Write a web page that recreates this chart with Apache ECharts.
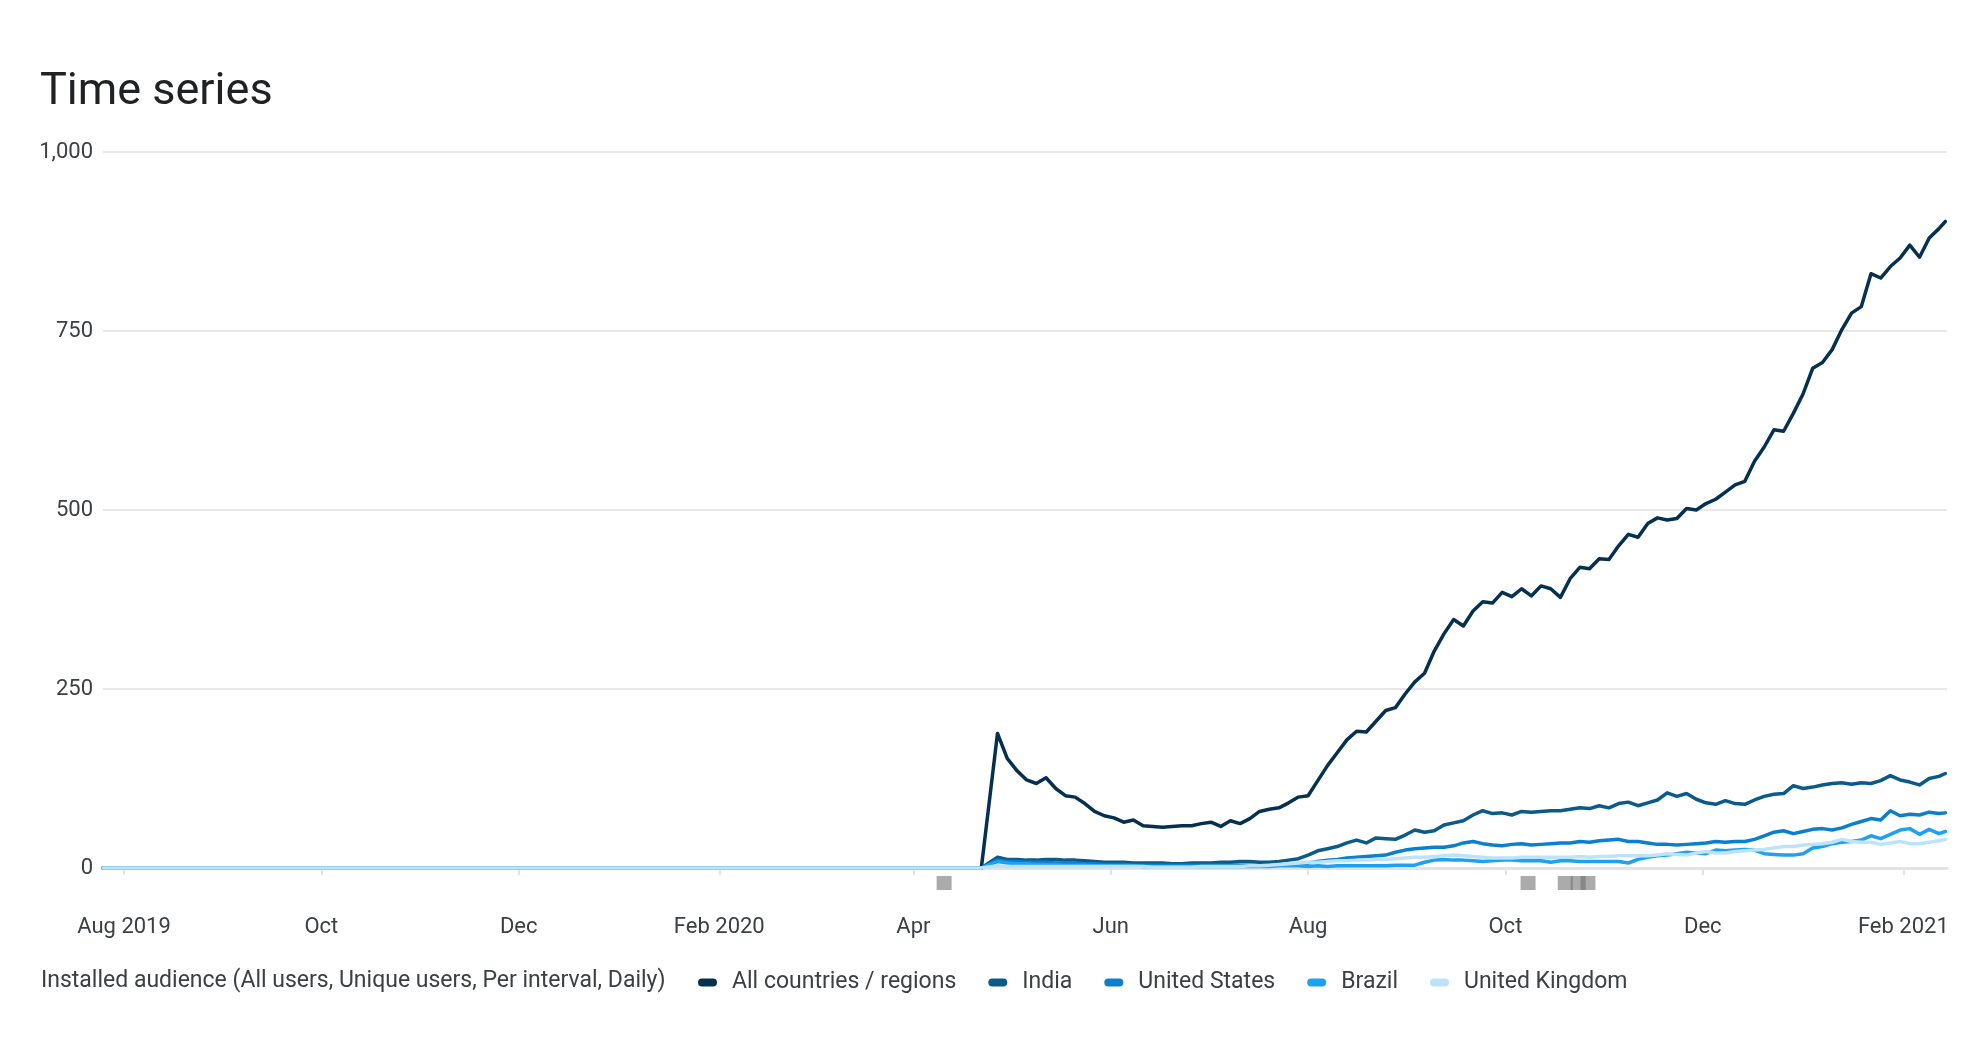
<!DOCTYPE html>
<html><head><meta charset="utf-8">
<script src="https://cdn.jsdelivr.net/npm/echarts@6/dist/echarts.min.js"></script>
<style>html,body{margin:0;padding:0;background:#fff}#c{width:1971px;height:1043px}</style>
</head><body><div id="c"></div>
<script>
// Day offsets counted from 2019-08-01
const tickDays = [0, 61, 122, 184, 244, 305, 366, 427, 488, 550];
const tickLabels = ['Aug 2019', 'Oct', 'Dec', 'Feb 2020', 'Apr', 'Jun', 'Aug', 'Oct', 'Dec', 'Feb 2021'];
const yTicks = [0, 250, 500, 750, 1000];

const seriesNames = ['All countries / regions', 'India', 'United States', 'Brazil', 'United Kingdom'];

const days = [-6.5, 265,
  270,273,276,279,282,285,288,291,294,297,300,303,306,309,312,315,318,321,324,327,330,333,336,339,342,345,348,351,354,357,360,
  363,366,369,372,375,378,381,384,387,390,393,396,399,402,405,408,411,414,417,420,423,426,429,432,435,438,441,444,447,450,
  453,456,459,462,465,468,471,474,477,480,483,486,489,492,495,498,501,504,507,510,513,516,519,522,525,528,531,534,537,540,
  543,546,549,552,555,558,561, 563];

const allCountries = [0, 0,
  188,153,136,123,118,126,111,101,99,90,79,73,70,64,67,59,58,57,58,59,59,62,64,58,66,62,69,79,82,84,91,
  99,101,122,143,161,179,191,190,205,220,224,243,260,272,303,327,347,338,359,372,370,385,379,390,380,394,390,378,404,420,
  418,432,431,450,466,462,481,489,486,488,502,500,509,515,525,535,540,568,588,612,610,635,662,698,706,724,752,775,784,830,
  824,840,852,870,853,880,893, 903];

const india = [0, 0,
  15,12,12,11,11,12,12,11,11,10,9,8,8,8,7,7,7,7,6,6,7,7,7,8,8,9,9,8,8,9,11,
  13,18,24,27,30,35,39,35,42,41,40,46,53,50,52,60,63,66,74,80,76,77,74,79,78,79,80,80,82,84,
  83,87,84,90,92,87,91,95,105,100,104,96,91,89,94,90,89,95,100,103,104,115,111,113,116,118,119,117,119,118,
  122,129,123,120,116,125,128, 132];

const unitedStates = [0, 0,
  11,9,9,8,8,8,7,7,7,6,6,5,5,5,4,4,4,4,4,4,4,4,4,4,4,4,4,3,3,4,4,
  5,7,9,11,12,14,15,16,17,18,22,25,27,28,29,29,31,35,37,34,32,31,33,34,32,33,34,35,35,37,
  36,38,39,40,37,37,35,33,33,32,33,34,35,37,36,37,37,40,45,50,52,48,51,54,55,53,56,61,65,69,
  67,80,73,75,74,78,76, 77];

const brazil = [0, 0,
  9,7,6,6,5,5,5,4,4,4,3,3,3,3,3,2,2,2,2,2,2,2,2,2,2,2,2,2,2,3,3,
  3,2,3,2,3,3,3,3,3,3,4,4,4,8,11,12,11,11,10,9,10,11,11,10,10,10,8,10,10,9,
  9,9,9,9,7,12,15,17,18,20,22,21,20,25,24,25,26,25,20,19,18,18,20,28,30,34,36,37,39,45,
  41,47,53,55,47,54,48, 51];

const unitedKingdom = [0, 0,
  3,2,2,2,2,2,2,2,2,2,2,2,2,2,2,2,1,1,1,1,1,2,2,2,2,2,3,3,4,5,6,
  7,8,8,9,10,10,11,11,12,12,13,14,15,15,16,17,18,17,16,15,14,14,14,15,15,15,15,15,15,16,
  15,16,16,17,17,17,17,18,20,19,18,21,23,21,21,23,24,25,26,28,30,30,32,33,34,36,40,37,36,36,
  33,35,37,34,34,36,38, 40];

const annotationDays = [253.5, 434, 445.5, 449.5, 452.5];

const seriesValues = [allCountries, india, unitedStates, brazil, unitedKingdom];
const seriesColors = ['#05304f', '#0a5a8a', '#0a7fcf', '#1ea1f2', '#bde3fb'];

const chart = echarts.init(document.getElementById('c'), null, {renderer: 'canvas'});
const FONT = 'Roboto, "Noto Sans", sans-serif';

const lineSeries = seriesNames.map((name, k) => ({
  name: name,
  type: 'line',
  data: days.map((d, i) => [d, seriesValues[k][i]]),
  showSymbol: false,
  symbol: 'none',
  clip: false,
  color: seriesColors[k],
  lineStyle: {width: 3.5, color: seriesColors[k], cap: 'round', join: 'round'},
  emphasis: {disabled: true},
  z: 3
}));

const annotationSeries = {
  type: 'custom',
  clip: false,
  silent: true,
  z: 2,
  data: annotationDays.map(d => [d]),
  renderItem: function (params, api) {
    const p = api.coord([api.value(0), 0]);
    return {
      type: 'rect',
      shape: {x: p[0] - 7.5, y: p[1] + 8, width: 15, height: 14},
      style: {fill: 'rgba(110,110,110,0.58)'}
    };
  }
};

chart.setOption({
  animation: false,
  backgroundColor: '#ffffff',
  textStyle: {fontFamily: FONT},
  title: [
    {text: 'Time series', left: 35, top: 65,
     textStyle: {fontFamily: FONT, fontSize: 45, fontWeight: 'normal', color: '#202124'}},
    {text: 'Installed audience (All users, Unique users, Per interval, Daily)', left: 36, top: 965,
     textStyle: {fontFamily: FONT, fontSize: 23, fontWeight: 'normal', color: '#3c4043'}}
  ],
  legend: {
    left: 693, top: 966,
    data: seriesNames,
    itemWidth: 19, itemHeight: 8, itemGap: 32,
    icon: 'path://M4,0 H15 A4,4 0 0 1 15,8 H4 A4,4 0 0 1 4,0 Z',
    textStyle: {fontFamily: FONT, fontSize: 23, color: '#3c4043', padding: [0, 0, 0, 10]},
    selectedMode: false
  },
  grid: {left: 103, right: 24, top: 152, bottom: 175, containLabel: false},
  xAxis: {
    type: 'value',
    min: -6.5, max: 563.5,
    offset: 29,
    splitLine: {show: false},
    axisLine: {show: true, lineStyle: {color: '#e3e3e6', width: 3}},
    axisTick: {show: true, customValues: tickDays, length: 7, lineStyle: {color: '#e3e3e6', width: 2}},
    axisLabel: {
      customValues: tickDays,
      margin: 19,
      fontFamily: FONT, fontSize: 22, color: '#3c4043',
      formatter: function (v) {
        const i = tickDays.indexOf(v);
        return i >= 0 ? tickLabels[i] : '';
      }
    }
  },
  yAxis: {
    type: 'value',
    min: 0, max: 1000, interval: 250,
    axisLine: {show: false},
    axisTick: {show: false},
    splitLine: {lineStyle: {color: '#e8e8ec', width: 2}},
    axisLabel: {
      margin: 10, fontFamily: FONT, fontSize: 22, color: '#3c4043',
      formatter: v => yTicks.indexOf(v) >= 0 ? v.toLocaleString('en-US') : ''
    }
  },
  series: lineSeries.concat([annotationSeries])
});
</script>
</body></html>
